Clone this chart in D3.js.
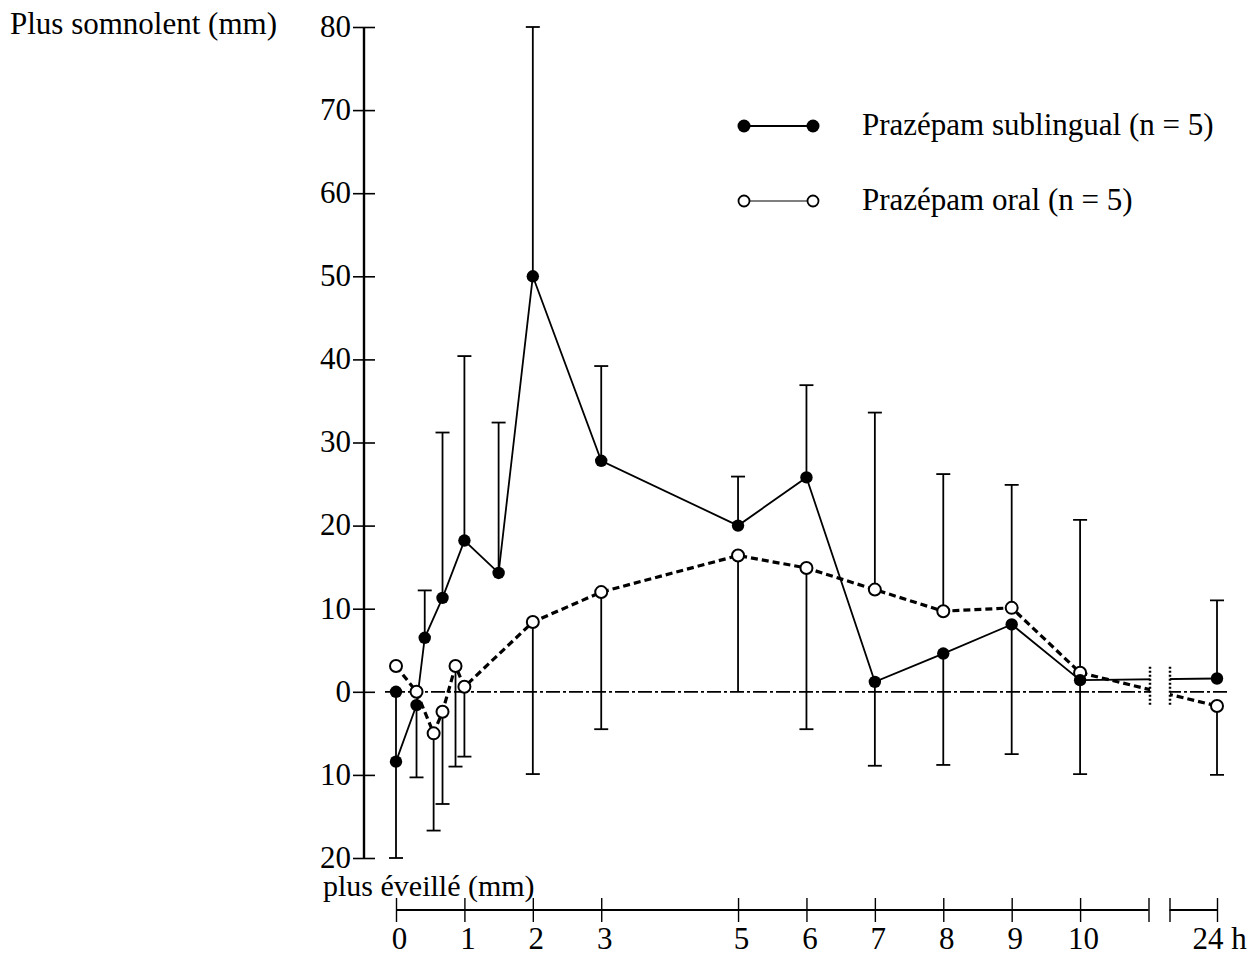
<!DOCTYPE html>
<html>
<head>
<meta charset="utf-8">
<script src="https://cdn.jsdelivr.net/npm/d3@7"></script>
<style>
  body { margin: 0; background: #fff; }
  svg { display: block; }
  text { font-family: "Liberation Serif", "DejaVu Serif", serif; fill: #000; }
</style>
</head>
<body>
<div id="chart"></div>
<script>
// heures apres la prise (24 = 24 h, apres la coupure de l'axe)
const subTimes = [0, 0, 0.3, 0.42, 0.68, 1, 1.5, 2, 3, 5, 6, 7, 8, 9, 10, 24];
const subValues = [0, -8.4, -1.6, 6.5, 11.3, 18.2, 14.3, 50, 27.8, 20, 25.8, 1.2, 4.6, 8.1, 1.4, 1.6];
const subErrEnd = [-20, null, -10.3, 12.2, 31.2, 40.4, 32.4, 80, 39.2, 25.9, 36.9, -8.9, -8.8, -7.5, -9.9, 11];

const oralTimes = [0, 0.3, 0.55, 0.68, 0.87, 1, 2, 3, 5, 6, 7, 8, 9, 10, 24];
const oralValues = [3.1, 0, -5, -2.4, 3.1, 0.6, 8.4, 12, 16.4, 14.9, 12.3, 9.7, 10.1, 2.3, -1.7];
const oralErrEnd = [null, null, -16.7, -13.5, -9, -7.8, -9.9, -4.5, 0, -4.5, 33.6, 26.2, 24.9, 20.7, -10];

const yTicks = [-20, -10, 0, 10, 20, 30, 40, 50, 60, 70, 80];
const xTicks = [0, 1, 2, 3, 5, 6, 7, 8, 9, 10, 11];
const xLabels = ["0", "1", "2", "3", "5", "6", "7", "8", "9", "10", ""];

const width = 1250, height = 956;
const axisX = 364, axisY = 910;
const breakLeft = 1150, breakRight = 1170;
const fontSize = 31;

const x = d3.scaleLinear()
    .domain([0, 11, 23.3, 24])
    .range([396, 1148.5, 1169.5, 1217]);

const y = d3.scaleLinear()
    .domain([-20, 80])
    .range([858, 27]);

const svg = d3.select("#chart")
    .append("svg")
    .attr("width", width)
    .attr("height", height);

// zone de coupure de l'axe des temps
svg.append("clipPath")
    .attr("id", "cut")
    .selectAll("rect")
    .data([[0, breakLeft], [breakRight, width]])
    .enter()
    .append("rect")
    .attr("x", d => d[0])
    .attr("y", 0)
    .attr("width", d => d[1] - d[0])
    .attr("height", height);

// axe vertical
const yAxis = d3.axisLeft(y)
    .tickValues(yTicks)
    .tickSize(11)
    .tickPadding(4)
    .tickFormat(d => Math.abs(d));

const gy = svg.append("g")
    .attr("transform", `translate(${axisX}, 0)`)
    .call(yAxis);
gy.select(".domain").remove();
gy.selectAll(".tick line").attr("x1", -11).attr("x2", 11).attr("stroke", "#000").attr("stroke-width", 1.6);
gy.selectAll(".tick text").attr("x", -13).attr("font-size", fontSize).attr("dy", "0.3em");
gy.append("line")
    .attr("x1", 0).attr("x2", 0)
    .attr("y1", y(80)).attr("y2", y(-20))
    .attr("stroke", "#000").attr("stroke-width", 2.4);

svg.append("text")
    .attr("x", 10).attr("y", 34)
    .attr("font-size", fontSize)
    .text("Plus somnolent (mm)");

svg.append("text")
    .attr("x", 323).attr("y", 896)
    .attr("font-size", 30)
    .text("plus éveillé (mm)");

// axe horizontal (0 - 11 h puis 24 h)
const xAxis = d3.axisBottom(x)
    .tickValues(xTicks)
    .tickSize(12)
    .tickPadding(5)
    .tickFormat((d, i) => xLabels[i]);

const gx = svg.append("g")
    .attr("transform", `translate(0, ${axisY})`)
    .call(xAxis);
gx.select(".domain").remove();
gx.selectAll(".tick line").attr("y1", -12).attr("y2", 12).attr("stroke", "#000").attr("stroke-width", 1.4);
gx.selectAll(".tick text").attr("font-size", fontSize).attr("dx", 3);

gx.append("line")
    .attr("x1", x(0)).attr("x2", x(11))
    .attr("stroke", "#000").attr("stroke-width", 2);

const gx2 = svg.append("g")
    .attr("transform", `translate(0, ${axisY})`)
    .call(d3.axisBottom(x).tickValues([23.3, 24]).tickSize(12).tickPadding(5)
        .tickFormat(d => d === 24 ? "24 h" : ""));
gx2.select(".domain").remove();
gx2.selectAll(".tick line").attr("y1", -12).attr("y2", 12).attr("stroke", "#000").attr("stroke-width", 1.4);
gx2.selectAll(".tick text").attr("font-size", fontSize).attr("dx", 2);
gx2.append("line")
    .attr("x1", x(23.3)).attr("x2", x(24))
    .attr("stroke", "#000").attr("stroke-width", 2);

const plot = svg.append("g").attr("clip-path", "url(#cut)");

// ligne de base
plot.append("line")
    .attr("x1", 385).attr("x2", 1228)
    .attr("y1", y(0)).attr("y2", y(0))
    .attr("stroke", "#000")
    .attr("stroke-width", 1.8)
    .attr("stroke-dasharray", "14,3,3,3");

// marques de coupure
svg.selectAll(".break")
    .data([breakLeft, breakRight])
    .enter()
    .append("line")
    .attr("x1", d => d).attr("x2", d => d)
    .attr("y1", y(3)).attr("y2", y(-1.8))
    .attr("stroke", "#000")
    .attr("stroke-width", 2.5)
    .attr("stroke-dasharray", "2,2");

function errorBars(times, values, ends) {
    const rows = times.map((t, i) => [t, values[i], ends[i]]).filter(d => d[2] !== null);
    const g = plot.append("g").attr("stroke", "#000").attr("stroke-width", 1.8);
    g.selectAll("line.bar")
        .data(rows)
        .enter()
        .append("line")
        .attr("x1", d => x(d[0])).attr("x2", d => x(d[0]))
        .attr("y1", d => y(d[1])).attr("y2", d => y(d[2]));
    g.selectAll("line.cap")
        .data(rows.filter(d => d[2] !== 0))
        .enter()
        .append("line")
        .attr("x1", d => x(d[0]) - 7).attr("x2", d => x(d[0]) + 7)
        .attr("y1", d => y(d[2])).attr("y2", d => y(d[2]));
}

errorBars(subTimes, subValues, subErrEnd);
errorBars(oralTimes, oralValues, oralErrEnd);

const line = d3.line()
    .x(d => x(d[0]))
    .y(d => y(d[1]));

const subPts = subTimes.map((t, i) => [t, subValues[i]]);
const oralPts = oralTimes.map((t, i) => [t, oralValues[i]]);

plot.append("path")
    .datum(subPts.slice(1))
    .attr("d", line)
    .attr("fill", "none")
    .attr("stroke", "#000")
    .attr("stroke-width", 1.8);

plot.append("path")
    .datum(oralPts)
    .attr("d", line)
    .attr("fill", "none")
    .attr("stroke", "#000")
    .attr("stroke-width", 3.2)
    .attr("stroke-dasharray", "7,4");

plot.selectAll("circle.oral")
    .data(oralPts)
    .enter()
    .append("circle")
    .attr("cx", d => x(d[0]))
    .attr("cy", d => y(d[1]))
    .attr("r", 6)
    .attr("fill", "#fff")
    .attr("stroke", "#000")
    .attr("stroke-width", 2);

plot.selectAll("circle.sub")
    .data(subPts)
    .enter()
    .append("circle")
    .attr("cx", d => x(d[0]))
    .attr("cy", d => y(d[1]))
    .attr("r", 6.2)
    .attr("fill", "#000");

// legende
const legend = svg.append("g");
legend.append("line")
    .attr("x1", 744).attr("x2", 813).attr("y1", 126).attr("y2", 126)
    .attr("stroke", "#000").attr("stroke-width", 2);
legend.selectAll("circle.ls")
    .data([744, 813])
    .enter()
    .append("circle")
    .attr("cx", d => d).attr("cy", 126).attr("r", 6.5)
    .attr("fill", "#000");
legend.append("text")
    .attr("x", 862).attr("y", 135)
    .attr("font-size", fontSize)
    .text("Prazépam sublingual (n = 5)");

legend.append("line")
    .attr("x1", 744).attr("x2", 813).attr("y1", 201).attr("y2", 201)
    .attr("stroke", "#000").attr("stroke-width", 1.2);
legend.selectAll("circle.lo")
    .data([744, 813])
    .enter()
    .append("circle")
    .attr("cx", d => d).attr("cy", 201).attr("r", 5.5)
    .attr("fill", "#fff")
    .attr("stroke", "#000")
    .attr("stroke-width", 1.8);
legend.append("text")
    .attr("x", 862).attr("y", 210)
    .attr("font-size", fontSize)
    .text("Prazépam oral (n = 5)");
</script>
</body>
</html>
